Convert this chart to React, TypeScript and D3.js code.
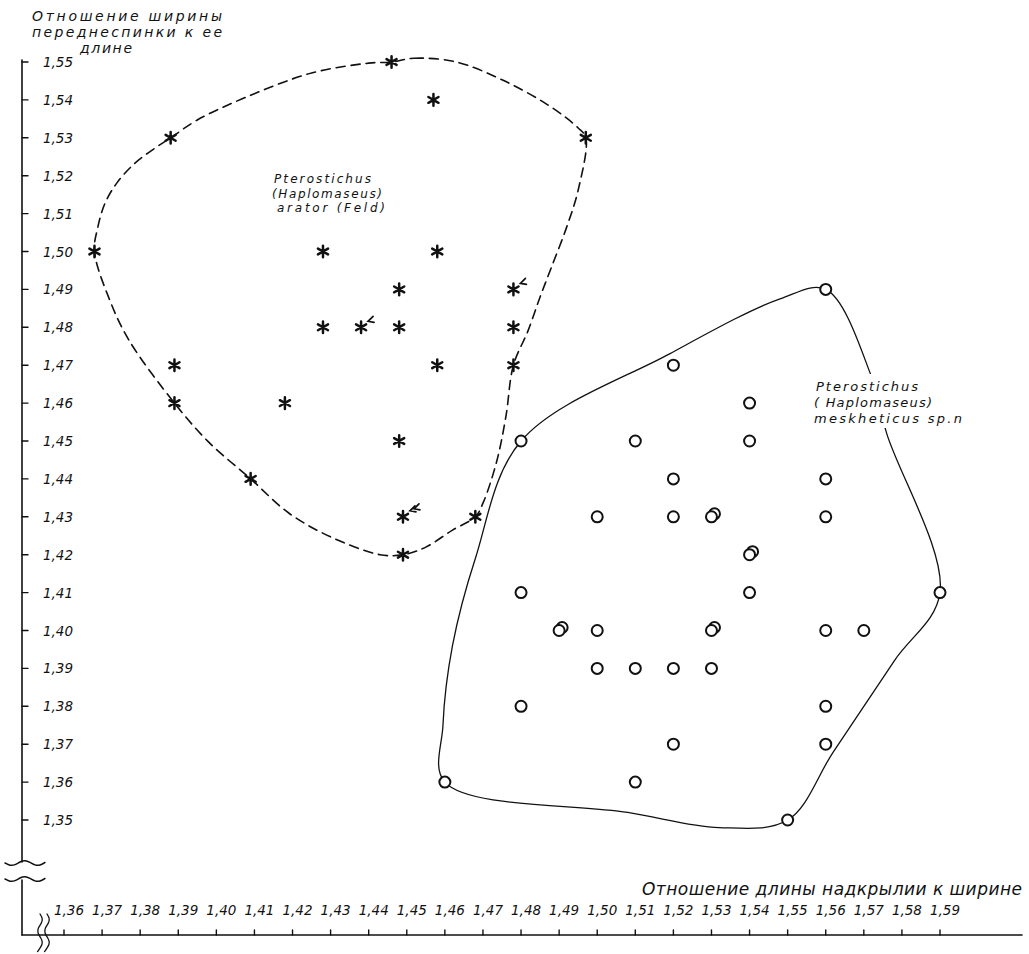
import React, { useEffect, useRef } from 'react';
import * as d3 from 'd3';

const WIDTH = 1029;
const HEIGHT = 954;

// tick values of both axes (written with a decimal comma)
const xTickValues = [
  1.36, 1.37, 1.38, 1.39, 1.4, 1.41, 1.42, 1.43, 1.44, 1.45, 1.46, 1.47,
  1.48, 1.49, 1.5, 1.51, 1.52, 1.53, 1.54, 1.55, 1.56, 1.57, 1.58, 1.59,
];
const yTickValues = [
  1.35, 1.36, 1.37, 1.38, 1.39, 1.4, 1.41, 1.42, 1.43, 1.44, 1.45, 1.46,
  1.47, 1.48, 1.49, 1.5, 1.51, 1.52, 1.53, 1.54, 1.55,
];

const xTitle = 'Отношение длины надкрылии к ширине';
const yTitleLines = ['Отношение ширины', 'переднеспинки к ее', 'длине'];

// Pterostichus (Haplomaseus) arator: [elytra length/width, pronotum width/length]
// (x, the asterisks sit a little left of the grid)
const aratorPoints = [
  [1.446, 1.55], [1.457, 1.54], [1.388, 1.53], [1.497, 1.53],
  [1.368, 1.5], [1.428, 1.5], [1.458, 1.5],
  [1.448, 1.49], [1.478, 1.49],
  [1.428, 1.48], [1.438, 1.48], [1.448, 1.48], [1.478, 1.48],
  [1.389, 1.47], [1.458, 1.47], [1.478, 1.47],
  [1.389, 1.46], [1.418, 1.46],
  [1.448, 1.45],
  [1.409, 1.44],
  [1.449, 1.43], [1.468, 1.43],
  [1.449, 1.42],
];
// specimens per point (extra ones are tallied with little hooks)
const aratorCount = [
  1, 1, 1, 1,
  1, 1, 1,
  1, 2,
  1, 2, 1, 1,
  1, 1, 1,
  1, 1,
  1,
  1,
  3, 1,
  1,
];

// Pterostichus (Haplomaseus) meskheticus sp. n.
const meskheticusPoints = [
  [1.56, 1.49],
  [1.52, 1.47],
  [1.54, 1.46],
  [1.48, 1.45], [1.51, 1.45], [1.54, 1.45],
  [1.52, 1.44], [1.56, 1.44],
  [1.5, 1.43], [1.52, 1.43], [1.53, 1.43], [1.56, 1.43],
  [1.54, 1.42],
  [1.48, 1.41], [1.54, 1.41], [1.59, 1.41],
  [1.49, 1.4], [1.5, 1.4], [1.53, 1.4], [1.56, 1.4], [1.57, 1.4],
  [1.5, 1.39], [1.51, 1.39], [1.52, 1.39], [1.53, 1.39],
  [1.48, 1.38], [1.56, 1.38],
  [1.52, 1.37], [1.56, 1.37],
  [1.46, 1.36], [1.51, 1.36],
  [1.55, 1.35],
];
const meskheticusCount = [
  1,
  1,
  1,
  1, 1, 1,
  1, 1,
  1, 1, 2, 1,
  2,
  1, 1, 1,
  2, 1, 2, 1, 1,
  1, 1, 1, 1,
  1, 1,
  1, 1,
  1, 1,
  1,
];

// outlines of the two groups as traced on the drawing
const aratorContour = [
  [1.446, 1.55], [1.452, 1.551], [1.463, 1.55], [1.475, 1.5453], [1.487, 1.5387],
  [1.495, 1.5326], [1.497, 1.53], [1.495, 1.5162], [1.492, 1.5065], [1.488, 1.4959],
  [1.485, 1.488], [1.4818, 1.479], [1.478, 1.47], [1.476, 1.4563], [1.4735, 1.4442],
  [1.47, 1.4336], [1.468, 1.43], [1.462, 1.4265], [1.455, 1.422], [1.449, 1.42],
  [1.443, 1.42], [1.43, 1.4247], [1.419, 1.431], [1.409, 1.44], [1.398, 1.4497],
  [1.389, 1.46], [1.377, 1.4767], [1.372, 1.4872], [1.368, 1.5], [1.3689, 1.5065],
  [1.3708, 1.5128], [1.3739, 1.5181], [1.3784, 1.5231], [1.3839, 1.5273], [1.388, 1.53],
  [1.395, 1.5347], [1.408, 1.5408], [1.425, 1.5471], [1.44, 1.5497],
];
const meskheticusContour = [
  [1.48, 1.45], [1.519, 1.473], [1.548, 1.4875], [1.56, 1.49], [1.572, 1.467],
  [1.576, 1.452], [1.59, 1.41], [1.578, 1.392], [1.562, 1.368], [1.55, 1.35],
  [1.532, 1.348], [1.508, 1.352], [1.46, 1.36], [1.4595, 1.375], [1.462, 1.396],
  [1.468, 1.419],
];

const aratorLabel = ['Pterostichus', '(Haplomaseus)', 'arator (Feld)'];
const meskheticusLabel = ['Pterostichus', '( Haplomaseus)', 'meskheticus sp.n'];

const FONT = "'DejaVu Sans', 'Liberation Sans', sans-serif";

const App = () => {
  const svgRef = useRef(null);

  useEffect(() => {
    const svg = d3.select(svgRef.current);
    svg.selectAll('*').remove();

    const x = d3.scaleLinear().domain([1.36, 1.59]).range([64, 940]);
    const y = d3.scaleLinear().domain([1.35, 1.55]).range([820, 62]);
    const fmt = d3
      .formatLocale({ decimal: ',', thousands: ' ', grouping: [3], currency: ['', ''] })
      .format('.2f');

    const axisX = 22;
    const axisY = 935;
    const ink = '#111';

    const g = svg.append('g').attr('stroke-linecap', 'round');

    // y axis, broken near the bottom
    g.append('line')
      .attr('x1', axisX).attr('y1', 60).attr('x2', axisX).attr('y2', 862)
      .attr('stroke', ink).attr('stroke-width', 1.6);
    g.append('line')
      .attr('x1', axisX).attr('y1', 880).attr('x2', axisX).attr('y2', axisY)
      .attr('stroke', ink).attr('stroke-width', 1.6);
    g.append('line')
      .attr('x1', axisX).attr('y1', axisY).attr('x2', 1022).attr('y2', axisY)
      .attr('stroke', ink).attr('stroke-width', 1.6);

    const wave = d3.line().curve(d3.curveBasis);
    [863, 879].forEach((yy) => {
      const pts = d3.range(0, 9).map((i) => [5 + i * 5, yy + Math.sin(i * 1.2) * 3]);
      g.append('path').attr('d', wave(pts)).attr('fill', 'none')
        .attr('stroke', ink).attr('stroke-width', 1.5);
    });
    [40, 47].forEach((xx) => {
      const pts = d3.range(0, 9).map((i) => [xx + Math.sin(i * 1.3) * 3, 914 + i * 4.7]);
      g.append('path').attr('d', wave(pts)).attr('fill', 'none')
        .attr('stroke', ink).attr('stroke-width', 1.3);
    });

    // ticks and labels
    g.selectAll('.ytick').data(yTickValues).enter().append('line')
      .attr('x1', axisX).attr('x2', axisX + 6)
      .attr('y1', (d) => y(d)).attr('y2', (d) => y(d))
      .attr('stroke', ink).attr('stroke-width', 1.4);
    g.selectAll('.ylab').data(yTickValues).enter().append('text')
      .attr('x', 58).attr('y', (d) => y(d) + 5)
      .attr('text-anchor', 'middle')
      .style('font-family', FONT).style('font-style', 'italic').style('font-size', '13.5px')
      .attr('fill', ink)
      .text((d) => fmt(d));

    g.selectAll('.xtick').data(xTickValues).enter().append('line')
      .attr('x1', (d) => x(d)).attr('x2', (d) => x(d))
      .attr('y1', axisY).attr('y2', axisY - 5)
      .attr('stroke', ink).attr('stroke-width', 1.4);
    g.selectAll('.xlab').data(xTickValues).enter().append('text')
      .attr('x', (d) => x(d) + 5).attr('y', 915)
      .attr('text-anchor', 'middle')
      .style('font-family', FONT).style('font-style', 'italic').style('font-size', '13.5px')
      .attr('fill', ink)
      .text((d) => fmt(d));

    // axis titles
    g.append('text')
      .attr('x', 642).attr('y', 895)
      .attr('textLength', 380).attr('lengthAdjust', 'spacing')
      .style('font-family', FONT).style('font-style', 'italic').style('font-size', '17px')
      .attr('fill', ink)
      .text(xTitle);
    const yTitlePos = [[32, 21, 190], [32, 37, 190], [80, 53, 52]];
    yTitleLines.forEach((line, i) => {
      g.append('text')
        .attr('x', yTitlePos[i][0]).attr('y', yTitlePos[i][1])
        .attr('textLength', yTitlePos[i][2]).attr('lengthAdjust', 'spacing')
        .style('font-family', FONT).style('font-style', 'italic').style('font-size', '14px')
        .attr('fill', ink)
        .text(line);
    });

    // group outlines
    const outline = d3.line()
      .x((d) => x(d[0]))
      .y((d) => y(d[1]))
      .curve(d3.curveCatmullRomClosed.alpha(0.5));

    g.append('path')
      .attr('d', outline(aratorContour))
      .attr('fill', 'none').attr('stroke', ink)
      .attr('stroke-width', 1.6).attr('stroke-dasharray', '9 6');

    g.append('path')
      .attr('d', outline(meskheticusContour))
      .attr('fill', 'none').attr('stroke', ink).attr('stroke-width', 1.3);

    // species labels
    g.append('rect')
      .attr('x', 810).attr('y', 374).attr('width', 158).attr('height', 54)
      .attr('fill', 'white');
    const labelBlock = (lines, x0, y0, dy, lens, size) => {
      lines.forEach((line, i) => {
        g.append('text')
          .attr('x', x0[i]).attr('y', y0 + i * dy)
          .attr('textLength', lens[i]).attr('lengthAdjust', 'spacing')
          .style('font-family', FONT).style('font-style', 'italic').style('font-size', size)
          .attr('fill', ink)
          .text(line);
      });
    };
    labelBlock(aratorLabel, [274, 272, 277], 183, 14.5, [97, 110, 108], '12px');
    labelBlock(meskheticusLabel, [816, 814, 814], 391, 16, [102, 118, 148], '13px');

    // meskheticus: open circles
    const circles = g.append('g');
    meskheticusPoints.forEach((p, i) => {
      const n = meskheticusCount[i];
      for (let k = n - 1; k >= 0; k--) {
        circles.append('circle')
          .attr('cx', x(p[0]) + k * 3).attr('cy', y(p[1]) - k * 3)
          .attr('r', 5.5)
          .attr('fill', 'white').attr('stroke', ink).attr('stroke-width', 2);
      }
    });

    // arator: asterisks with tally hooks
    const star = d3.symbol().type(d3.symbolAsterisk).size(95);
    const stars = g.append('g');
    aratorPoints.forEach((p, i) => {
      const cx = x(p[0]);
      const cy = y(p[1]);
      stars.append('path')
        .attr('d', star())
        .attr('transform', `translate(${cx},${cy})`)
        .attr('fill', 'none').attr('stroke', ink).attr('stroke-width', 2.5);
      for (let k = 1; k < aratorCount[i]; k++) {
        const ox = cx + 3 + k * 4;
        const oy = cy - 4 - k * 2;
        stars.append('path')
          .attr('d', `M${ox + 5},${oy - 5} L${ox},${oy} L${ox + 6},${oy + 1}`)
          .attr('fill', 'none').attr('stroke', ink).attr('stroke-width', 1.7);
      }
    });
  }, []);

  return (
    <svg
      ref={svgRef}
      width={WIDTH}
      height={HEIGHT}
      style={{ position: 'absolute', left: 0, top: 0, background: 'white' }}
    />
  );
};

export default App;
